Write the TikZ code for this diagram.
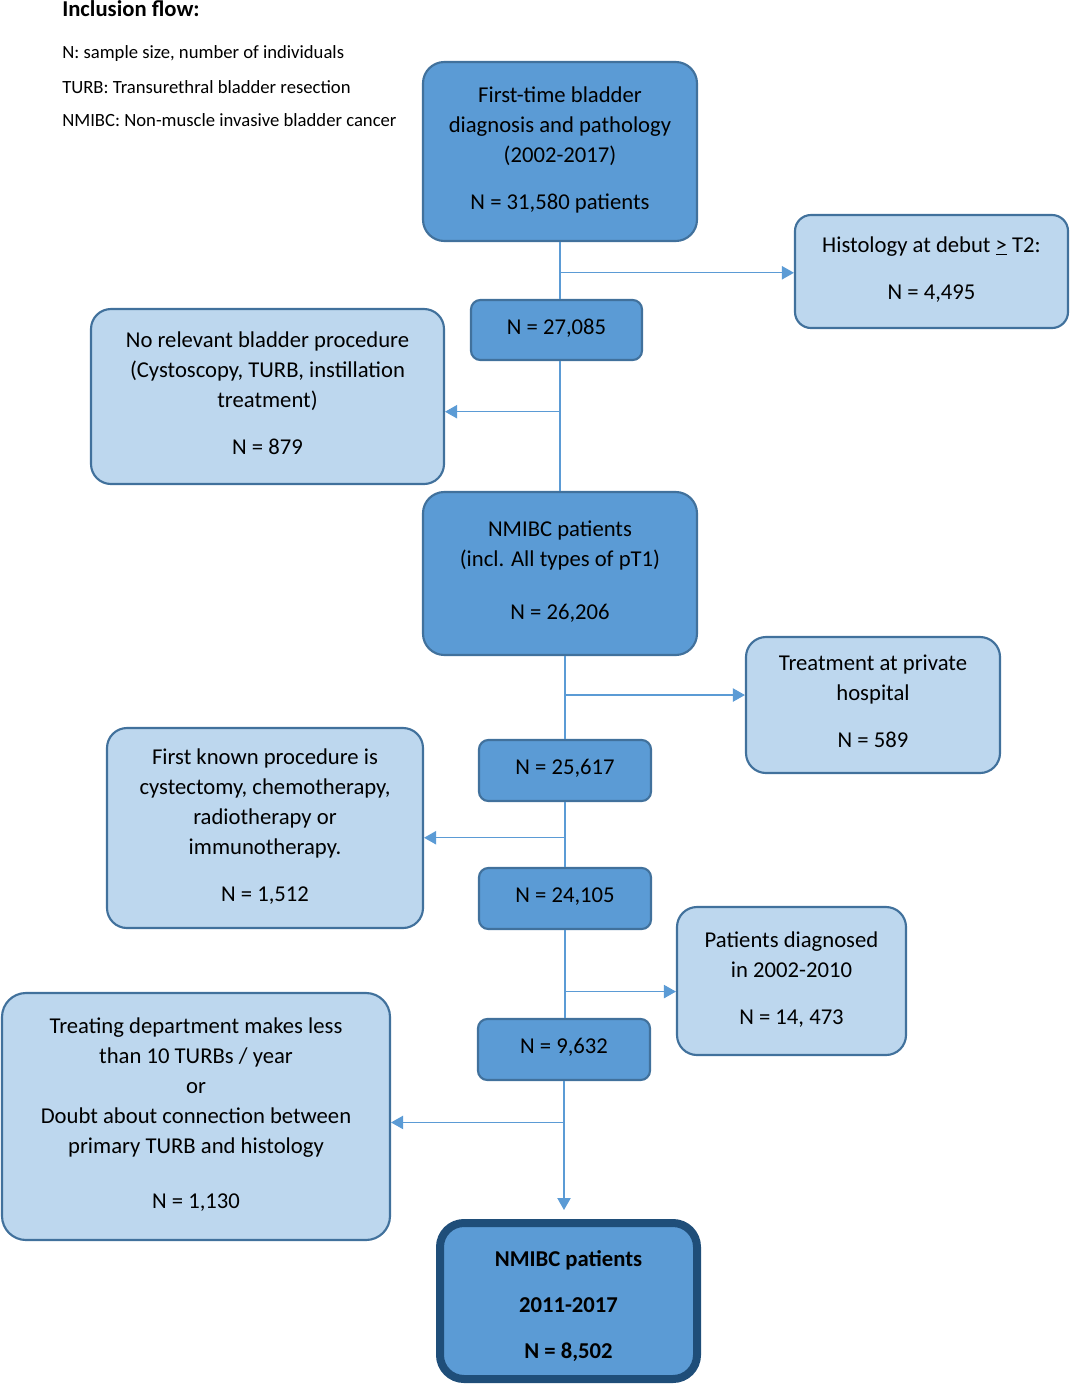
\documentclass[tikz,border=0pt]{standalone}
\usepackage{fontspec}
\setmainfont{Carlito}
\usetikzlibrary{arrows.meta,calc}
\definecolor{darkfill}{RGB}{91,155,213}
\definecolor{lightfill}{RGB}{189,215,238}
\definecolor{boxline}{RGB}{65,113,156}
\definecolor{finalline}{RGB}{31,78,121}
\definecolor{linkcol}{RGB}{91,155,213}
\tikzset{
  basebox/.style={draw=boxline, line width=1.6pt, align=center, inner sep=2pt,
    text depth=5pt, font=\fontsize{17pt}{22.5pt}\selectfont, text=black},
  darkbox/.style={basebox, fill=darkfill, rounded corners=16pt},
  lightbox/.style={basebox, fill=lightfill, rounded corners=15pt},
  smallbox/.style={basebox, fill=darkfill, rounded corners=7pt},
  finalbox/.style={basebox, fill=darkfill, draw=finalline, line width=6pt, rounded corners=18pt,
    text depth=0pt, font=\fontsize{17pt}{22.5pt}\selectfont\bfseries},
  legend/.style={anchor=base west, inner sep=0pt, font=\fontsize{14pt}{17pt}\selectfont},
  link/.style={draw=linkcol, line width=0.8pt},
  arrowlink/.style={link, -{Triangle[length=9pt,width=10pt]}},
}
\begin{document}
\begin{tikzpicture}[x=0.75pt,y=-0.75pt]
\useasboundingbox (0,0) rectangle (1070,1386);

% legend
\node[legend, font=\fontsize{17pt}{20pt}\selectfont\bfseries] (title) at (62,16) {Inclusion flow:};
\node[legend] (leg1) at (62,58) {N: sample size, number of individuals};
\node[legend] (leg2) at (62,93) {TURB: Transurethral bladder resection};
\node[legend] (leg3) at (62,126) {NMIBC: Non-muscle invasive bladder cancer};

% boxes
\node[darkbox, minimum width=205.5pt, minimum height=134.25pt] (top) at (560,151.5)
  {First-time bladder\\diagnosis and pathology\\(2002-2017)\\[12.75pt]N = 31,580 patients};
\node[lightbox, rounded corners=12pt, minimum width=204.75pt, minimum height=84.75pt] (hist) at (931.5,271.5)
  {Histology at debut \underline{>} T2:\\[12.75pt]N = 4,495};
\node[smallbox, minimum width=128.25pt, minimum height=45pt] (n1) at (556.5,330) {N = 27,085};
\node[lightbox, minimum width=264.75pt, minimum height=131.25pt] (norel) at (267.5,396.5)
  {No relevant bladder procedure\\(Cystoscopy, TURB, instillation\\treatment)\\[12.75pt]N = 879};
\node[darkbox, minimum width=205.5pt, minimum height=122.25pt] (nmibc) at (560,573.5)
  {NMIBC patients\\(incl. All types of pT1)\\[17.25pt]N = 26,206};
\node[lightbox, minimum width=190.5pt, minimum height=102pt] (priv) at (873,705)
  {Treatment at private\\hospital\\[12.75pt]N = 589};
\node[smallbox, minimum width=129pt, minimum height=45.75pt] (n2) at (565,770.5) {N = 25,617};
\node[lightbox, minimum width=237pt, minimum height=150pt] (first) at (265,828)
  {First known procedure is\\cystectomy, chemotherapy,\\radiotherapy or\\immunotherapy.\\[12.75pt]N = 1,512};
\node[smallbox, minimum width=129pt, minimum height=45.75pt] (n3) at (565,898.5) {N = 24,105};
\node[lightbox, minimum width=171.75pt, minimum height=111pt] (diag) at (791.5,981)
  {Patients diagnosed\\in 2002-2010\\[12.75pt]N = 14, 473};
\node[smallbox, minimum width=129pt, minimum height=45.75pt] (n4) at (564,1049.5) {N = 9,632};
\node[lightbox, rounded corners=18pt, minimum width=291pt, minimum height=185.25pt] (dept) at (196,1116.5)
  {Treating department makes less\\than 10 TURBs / year\\or\\Doubt about connection between\\primary TURB and histology\\[18.75pt]N = 1,130};
\node[finalbox, minimum width=192.75pt, minimum height=117pt] (final) at (568.5,1301)
  {\rule{0pt}{16.5pt}NMIBC patients\\[12pt]2011-2017\\[12pt]N = 8,502};

% spine and branches
\draw[link] (top.south) -- (top.south |- n1.north);
\coordinate (b1) at ($(top.south)!0.54!(top.south |- n1.north)$);
\draw[arrowlink] (b1) -- (b1 -| hist.west);

\draw[link] (nmibc.north |- n1.south) -- (nmibc.north);
\coordinate (b2) at ($(nmibc.north |- n1.south)!0.39!(nmibc.north)$);
\draw[arrowlink] (b2) -- (b2 -| norel.east);

\draw[link] (n2.north |- nmibc.south) -- (n2.north);
\coordinate (b3) at ($(n2.north |- nmibc.south)!0.47!(n2.north)$);
\draw[arrowlink] (b3) -- (b3 -| priv.west);

\draw[link] (n2.south) -- (n2.south |- n3.north);
\coordinate (b4) at ($(n2.south)!0.55!(n2.south |- n3.north)$);
\draw[arrowlink] (b4) -- (b4 -| first.east);

\draw[link] (n3.south) -- (n3.south |- n4.north);
\coordinate (b5) at ($(n3.south)!0.7!(n3.south |- n4.north)$);
\draw[arrowlink] (b5) -- (b5 -| diag.west);

\draw[arrowlink, shorten >=6.75pt] (n4.south) -- (n4.south |- final.north);
\coordinate (b6) at ($(n4.south)!0.3!(n4.south |- final.north)$);
\draw[arrowlink] (b6) -- (b6 -| dept.east);
\end{tikzpicture}
\end{document}
